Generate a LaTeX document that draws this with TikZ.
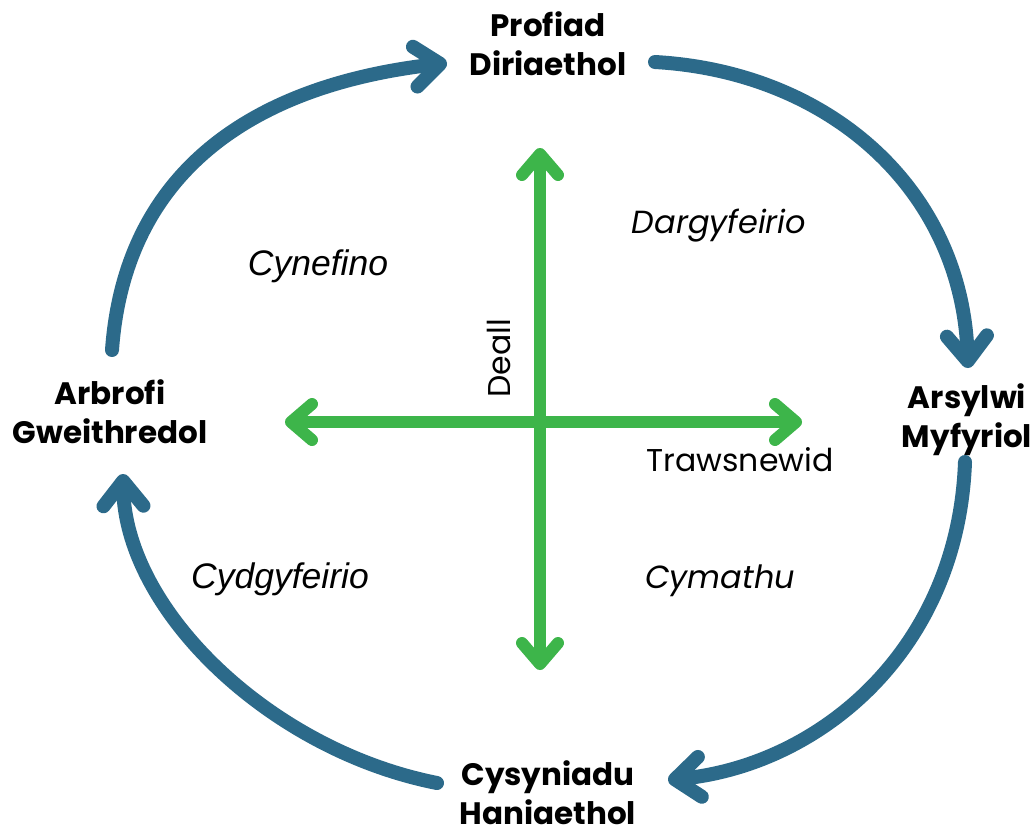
\documentclass[tikz,border=0pt]{standalone}
\usepackage{fontspec}
\setmainfont{Poppins}
\newfontfamily\arialfont{Liberation Sans}
\usetikzlibrary{arrows.meta}
\definecolor{cycleblue}{HTML}{2C6A8A}
\definecolor{axisgreen}{HTML}{3DB54A}
\begin{document}
\begin{tikzpicture}[x=1pt,y=-1pt,
  cyc/.style={draw=cycleblue, line width=14pt, line cap=round,
    -{Straight Barb[length=25pt,width=40pt,round]}},
  axisarrow/.style={draw=axisgreen, line width=12pt,
    {Straight Barb[length=21pt,width=36pt,round]}-{Straight Barb[length=21pt,width=36pt,round]}},
  stage/.style={font=\bfseries\fontsize{31}{39}\selectfont, align=center, inner sep=0pt, anchor=base},
  modep/.style={font=\itshape\fontsize{32}{36}\selectfont, inner sep=0pt, anchor=base},
  modea/.style={font=\arialfont\itshape\fontsize{35.5}{40}\selectfont, inner sep=0pt, anchor=base},
  axislabel/.style={font=\fontsize{31.5}{36}\selectfont, inner sep=0pt, anchor=base}]
\useasboundingbox[fill=white] (0,0) rectangle (1035,836);

% stage labels (anchor = baseline of the last line)
\node[stage] (top) at (548,75) {Profiad\\Diriaethol};
\node[stage] (right) at (967,447) {Arsylwi\\Myfyriol};
\node[stage] (left) at (110,443) {Arbrofi\\Gweithredol};
\node[stage] (bottom) at (548,824) {Cysyniadu\\Haniaethol};

% quadrant labels
\node[modea] (cynefino) at (318,275) {Cynefino};
\node[modep] (dargyfeirio) at (719,233) {Dargyfeirio};
\node[modea] (cydgyfeirio) at (280,588) {Cydgyfeirio};
\node[modep] (cymathu) at (720,588) {Cymathu};

% axis labels
\node[axislabel, rotate=90] (deall) at (510,358) {Deall};
\node[axislabel] (trawsnewid) at (740,471) {Trawsnewid};

% axis end points
\coordinate (hl) at (285,422);
\coordinate (hr) at (802,422);
\coordinate (vt) at (540,148);
\coordinate (vb) at (540,670);
\draw[axisarrow] (hl) -- (hr);
\draw[axisarrow] (vt) -- (vb);

% cycle arc end points
\coordinate (a1s) at (112,350);
\coordinate (a1e) at (447,63);
\coordinate (a2s) at (655,62);
\coordinate (a2e) at (968,368);
\coordinate (a3s) at (965,462);
\coordinate (a3e) at (668,780);
\coordinate (a4s) at (437,783);
\coordinate (a4e) at (123,474);

\draw[cyc] (a1s) .. controls (125,170) and (255,85) .. (a1e);
\draw[cyc] (a2s) .. controls (830,72) and (962,190) .. (a2e);
\draw[cyc] (a3s) .. controls (958,650) and (820,765) .. (a3e);
\draw[cyc] (a4s) .. controls (270,750) and (125,610) .. (a4e);
\end{tikzpicture}
\end{document}
